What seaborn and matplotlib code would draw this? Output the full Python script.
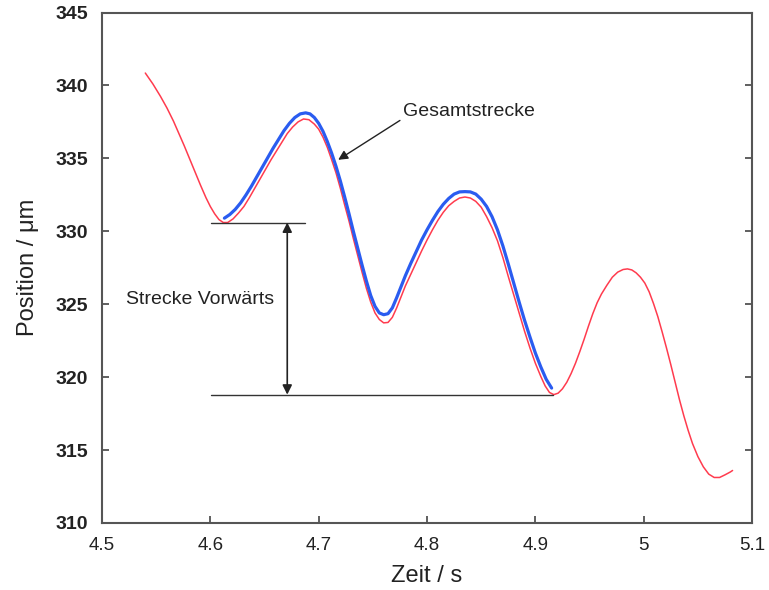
import numpy as np
import pandas as pd
import matplotlib
matplotlib.use("Agg")
import matplotlib.pyplot as plt
import seaborn as sns

# ---- data ----
red_t = [4.540, 4.547, 4.554, 4.560, 4.566, 4.571, 4.576, 4.581, 4.586, 4.591,
         4.596, 4.600, 4.604, 4.608, 4.612, 4.616, 4.621, 4.626, 4.631, 4.636,
         4.641, 4.646, 4.651, 4.656, 4.661, 4.666, 4.671, 4.676, 4.681, 4.686,
         4.691, 4.696, 4.700, 4.704, 4.708, 4.712, 4.716, 4.720, 4.724, 4.728,
         4.732, 4.736, 4.740, 4.744, 4.748, 4.752, 4.756, 4.760, 4.764, 4.768,
         4.772, 4.776, 4.780, 4.785, 4.790, 4.795, 4.800, 4.805, 4.810, 4.815,
         4.820, 4.825, 4.830, 4.835, 4.840, 4.845, 4.850, 4.855, 4.860, 4.865,
         4.870, 4.875, 4.880, 4.885, 4.890, 4.895, 4.900, 4.905, 4.909, 4.913,
         4.917, 4.921, 4.925, 4.929, 4.933, 4.937, 4.941, 4.945, 4.949, 4.953,
         4.957, 4.961, 4.966, 4.971, 4.976, 4.981, 4.985, 4.989, 4.993, 4.997,
         5.001, 5.005, 5.009, 5.013, 5.017, 5.021, 5.025, 5.029, 5.033, 5.037,
         5.041, 5.045, 5.050, 5.055, 5.060, 5.065, 5.070, 5.075, 5.080, 5.082]
red_pos = [340.85, 340.1, 339.25, 338.45, 337.55, 336.7, 335.85, 334.95, 334.05, 333.15,
           332.3, 331.7, 331.2, 330.8, 330.6, 330.6, 330.85, 331.25, 331.7, 332.3,
           332.95, 333.6, 334.25, 334.9, 335.5, 336.1, 336.7, 337.15, 337.5, 337.7,
           337.65, 337.35, 337.0, 336.45, 335.75, 334.9, 334.0, 332.95, 331.8, 330.7,
           329.5, 328.35, 327.2, 326.1, 325.15, 324.4, 323.95, 323.72, 323.75, 324.1,
           324.75, 325.5, 326.25, 327.05, 327.85, 328.65, 329.4, 330.1, 330.75, 331.3,
           331.75, 332.05, 332.28, 332.35, 332.28, 332.05, 331.65, 331.0, 330.25, 329.35,
           328.2, 326.9, 325.65, 324.4, 323.15, 322.0, 320.95, 320.05, 319.4, 318.95,
           318.8, 318.9, 319.2, 319.65, 320.25, 320.95, 321.75, 322.6, 323.5, 324.35,
           325.1, 325.7, 326.3, 326.85, 327.2, 327.38, 327.42, 327.35, 327.15, 326.85,
           326.45, 325.85, 325.05, 324.15, 323.1, 322.0, 320.85, 319.65, 318.45, 317.35,
           316.35, 315.45, 314.55, 313.85, 313.35, 313.12, 313.12, 313.3, 313.5, 313.6]

blue_t = [4.613, 4.618, 4.623, 4.628, 4.633, 4.638, 4.643, 4.648, 4.653, 4.658,
          4.663, 4.668, 4.673, 4.678, 4.683, 4.688, 4.692, 4.696, 4.700, 4.704,
          4.708, 4.712, 4.716, 4.720, 4.724, 4.728, 4.732, 4.736, 4.740, 4.744,
          4.748, 4.752, 4.756, 4.760, 4.764, 4.768, 4.772, 4.776, 4.780, 4.785,
          4.790, 4.795, 4.800, 4.805, 4.810, 4.815, 4.820, 4.825, 4.830, 4.835,
          4.840, 4.845, 4.850, 4.855, 4.860, 4.865, 4.870, 4.875, 4.880, 4.885,
          4.890, 4.895, 4.900, 4.905, 4.910, 4.915]
blue_pos = [330.9, 331.15, 331.5, 331.95, 332.5, 333.1, 333.75, 334.4, 335.05, 335.7,
            336.3, 336.9, 337.4, 337.8, 338.05, 338.12, 338.05, 337.8, 337.4, 336.85,
            336.15, 335.35, 334.45, 333.45, 332.35, 331.2, 330.0, 328.85, 327.7, 326.6,
            325.6, 324.85, 324.4, 324.28, 324.35, 324.75, 325.45, 326.2, 326.95, 327.8,
            328.6, 329.4, 330.1, 330.75, 331.35, 331.85, 332.25, 332.55, 332.7, 332.72,
            332.7, 332.55, 332.2, 331.7, 331.0, 330.1, 329.0, 327.75, 326.45, 325.15,
            323.9, 322.75, 321.65, 320.7, 319.85, 319.25]

x_ticks = [4.5, 4.6, 4.7, 4.8, 4.9, 5.0, 5.1]
x_tick_labels = ["4.5", "4.6", "4.7", "4.8", "4.9", "5", "5.1"]
y_ticks = [310, 315, 320, 325, 330, 335, 340, 345]

level_high = 330.6      # start level of "Strecke Vorwärts"
level_low = 318.8       # end level
line_high_t = [4.601, 4.687]
line_low_t = [4.601, 4.916]
arrow_t = 4.671
label_fwd = "Strecke Vorwärts"
label_total = "Gesamtstrecke"

# ---- plot ----
sns.set_theme(style="white")
plt.rcParams['font.family'] = ['Liberation Sans', 'DejaVu Sans']

fig = plt.figure(figsize=(7.69, 5.90), dpi=100)
ax = fig.add_axes([0.1326, 0.1136, 0.8454, 0.8652])

red_df = pd.DataFrame({"t": red_t, "pos": red_pos})
blue_df = pd.DataFrame({"t": blue_t, "pos": blue_pos})

sns.lineplot(data=red_df, x="t", y="pos", sort=False, color="#ff3b4e",
             linewidth=1.1, ax=ax)
sns.lineplot(data=blue_df, x="t", y="pos", sort=False, color="#2a5cf0",
             linewidth=2.3, ax=ax)

# annotation lines
ax.plot(line_high_t, [level_high, level_high], color="#333333", lw=1.0)
ax.plot(line_low_t, [level_low, level_low], color="#333333", lw=1.0)
ax.annotate("", xy=(arrow_t, level_low), xytext=(arrow_t, level_high),
            arrowprops=dict(arrowstyle="<|-|>", color="#222222", lw=1.2,
                            shrinkA=0, shrinkB=0, mutation_scale=14))
ax.text(4.522, 325.3, label_fwd, fontsize=14, va="center", ha="left",
        color="#222222")
ax.text(4.778, 338.2, label_total, fontsize=14, va="center", ha="left",
        color="#222222")
ax.annotate("", xy=(4.718, 334.9), xytext=(4.775, 337.6),
            arrowprops=dict(arrowstyle="-|>", color="#222222", lw=1.0,
                            shrinkA=0, shrinkB=0, mutation_scale=14))

ax.set_xlim(4.5, 5.1)
ax.set_ylim(310, 345)
ax.set_xticks(x_ticks)
ax.set_xticklabels(x_tick_labels)
ax.set_yticks(y_ticks)
ax.set_xlabel("Zeit / s", fontsize=17, color="#222222", labelpad=8)
ax.set_ylabel("Position / μm", fontsize=17, color="#222222", labelpad=12)

ax.tick_params(axis="x", direction="in", length=5, width=1.2, color="#444444",
               labelsize=13.5, pad=10, labelcolor="#222222", bottom=True, top=False)
ax.tick_params(axis="y", direction="in", length=5, width=1.2, color="#444444",
               labelsize=14, pad=10, labelcolor="#222222", left=True, right=True)
for lab in ax.get_yticklabels():
    lab.set_fontweight("bold")

for s in ax.spines.values():
    s.set_visible(True)
    s.set_color("#555555")
    s.set_linewidth(1.5)

fig.savefig("out.png", dpi=100)
